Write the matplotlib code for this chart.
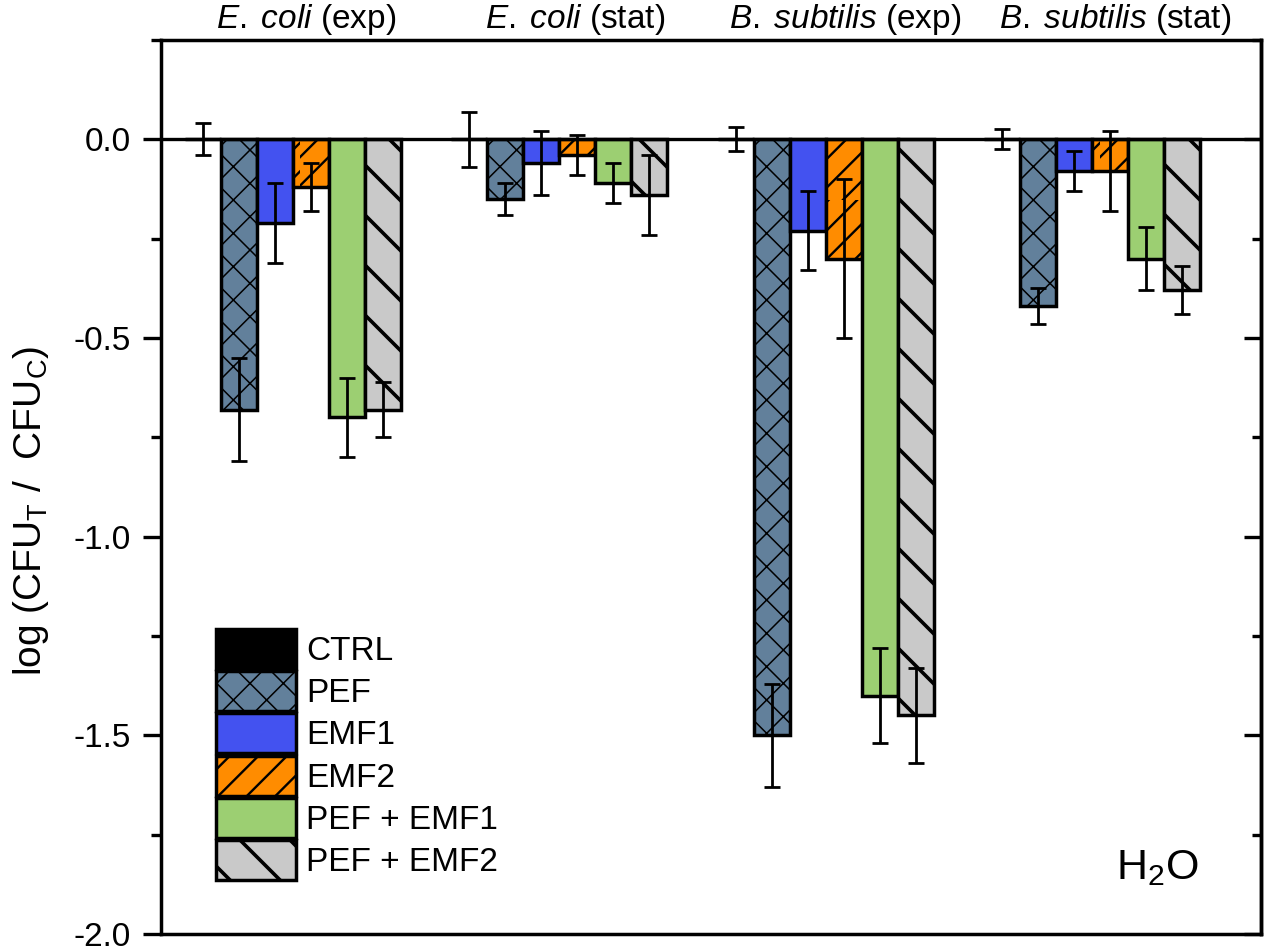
import numpy as np
import matplotlib
matplotlib.use('Agg')
import matplotlib.pyplot as plt
import matplotlib.transforms as mtransforms
from matplotlib.backend_bases import GraphicsContextBase

plt.rcParams['font.family'] = 'Liberation Sans'
plt.rcParams['mathtext.fontset'] = 'custom'
plt.rcParams['mathtext.rm'] = 'Liberation Sans'
plt.rcParams['mathtext.it'] = 'Liberation Sans:italic'

# ── Dados ─────────────────────────────────────────────────────────────────────
groups = [r'$\mathit{E.\;coli}$ (exp)', r'$\mathit{E.\;coli}$ (stat)',
          r'$\mathit{B.\;subtilis}$ (exp)', r'$\mathit{B.\;subtilis}$ (stat)']

treatments = ['CTRL', 'PEF', 'EMF1', 'EMF2', 'PEF + EMF1', 'PEF + EMF2']

ctrl       = [0.0, 0.0, 0.0, 0.0]
ctrl_err   = [0.04, 0.07, 0.03, 0.025]
pef        = [-0.68, -0.15, -1.50, -0.42]
pef_err    = [0.13, 0.04, 0.13, 0.045]
emf1       = [-0.21, -0.06, -0.23, -0.08]
emf1_err   = [0.10, 0.08, 0.10, 0.05]
emf2       = [-0.12, -0.04, -0.30, -0.08]
emf2_err   = [0.06, 0.05, 0.20, 0.10]
pef_emf1     = [-0.70, -0.11, -1.40, -0.30]
pef_emf1_err = [0.10, 0.05, 0.12, 0.08]
pef_emf2     = [-0.68, -0.14, -1.45, -0.38]
pef_emf2_err = [0.07, 0.10, 0.12, 0.06]

values = [ctrl, pef, emf1, emf2, pef_emf1, pef_emf2]
errors = [ctrl_err, pef_err, emf1_err, emf2_err, pef_emf1_err, pef_emf2_err]

# estilo de cada tratamento: (cor, hachura, espessura da hachura, densidade)
styles = [
    ('#000000', None, 1.0, 6),
    ('#62809b', 'x', 1.1, 6),
    ('#4352f0', None, 1.0, 6),
    ('#ff8c00', '/', 1.7, 7),
    ('#9ccf72', None, 1.0, 6),
    ('#c9c9c9', '\\', 2.6, 4),
]

GROUP_STEP = 7.4   # distância entre grupos (em larguras de barra)

# ── Hachura com espessura/densidade própria por artista ───────────────────────
_orig_hatch_path = GraphicsContextBase.get_hatch_path

def custom_hatch(artist, lw, density):
    if hasattr(artist, 'set_hatch_linewidth'):
        artist.set_hatch_linewidth(lw)
    orig_draw = artist.draw

    def draw(renderer):
        def hatch_path(self, density_=6.0):
            return _orig_hatch_path(self, density)
        GraphicsContextBase.get_hatch_path = hatch_path
        try:
            with plt.rc_context({'hatch.linewidth': lw}):
                orig_draw(renderer)
        finally:
            GraphicsContextBase.get_hatch_path = _orig_hatch_path
    artist.draw = draw

# ── Figura ────────────────────────────────────────────────────────────────────
fig = plt.figure(figsize=(12.67, 9.46), dpi=100)
ax = fig.add_axes([161/1267, 1 - 934/946, 1100/1267, 894/946])

base = np.arange(len(groups)) * GROUP_STEP
err_kw = dict(ecolor='black', elinewidth=2.0, capsize=5.8, capthick=2.0, zorder=6)

for j, (name, vals, errs) in enumerate(zip(treatments, values, errors)):
    color, hatch, hlw, dens = styles[j]
    with plt.rc_context({'hatch.linewidth': hlw}):
        bars = ax.bar(base + j, vals, width=1.0, color=color, edgecolor='black',
                      linewidth=2.5, hatch=hatch, label=name, zorder=3,
                      yerr=errs, error_kw=err_kw)
    for b in bars:
        custom_hatch(b, hlw, dens)

ax.axhline(0, color='black', lw=2.4, zorder=4)

ax.set_xlim(-1.17, 29.4)
ax.set_ylim(-2.0, 0.25)

ax.set_xticks([])
ax.set_yticks(np.arange(-2.0, 0.01, 0.5))
ax.set_yticks(np.arange(-2.0, 0.26, 0.25), minor=True)
ax.set_yticklabels([f'{v:.1f}' for v in np.arange(-2.0, 0.01, 0.5)])
ax.tick_params(axis='y', which='major', direction='out', length=13, width=2.4,
               labelsize=24, pad=9)
ax.tick_params(axis='y', which='minor', direction='out', length=7, width=2.4)

for s in ax.spines.values():
    s.set_linewidth(2.5)

# eixo direito: só marcas para dentro
ax_r = ax.secondary_yaxis('right')
ax_r.set_yticks(np.arange(-2.0, 0.01, 0.5))
ax_r.set_yticks(np.arange(-2.0, 0.26, 0.25), minor=True)
ax_r.tick_params(axis='y', which='major', direction='in', length=12, width=2.4,
                 labelright=False)
ax_r.tick_params(axis='y', which='minor', direction='in', length=6.5, width=2.4,
                 labelright=False)
ax_r.spines['right'].set_linewidth(2.5)

ax.set_ylabel(r'log (CFU$_\mathregular{T}$ /  CFU$_\mathregular{C}$)', fontsize=28)
ax.yaxis.set_label_coords(-0.1, 0.473)

# rótulos dos grupos acima do gráfico
trans = mtransforms.blended_transform_factory(ax.transData, ax.transAxes)
for g, label in enumerate(groups):
    ax.text(base[g] + 2.85 + 0.1 * g, 1.013, label, transform=trans,
            ha='center', va='baseline', fontsize=24)

ax.text(0.943, 0.0615, r'H$_\mathregular{2}$O', transform=ax.transAxes,
        ha='right', va='baseline', fontsize=31)

leg = ax.legend(loc='lower left', bbox_to_anchor=(0.05, 0.06), frameon=False,
                fontsize=24, handlelength=2.4, handleheight=1.47,
                labelspacing=0.07, handletextpad=0.3, borderpad=0,
                borderaxespad=0)
for p, st in zip(leg.get_patches(), styles):
    custom_hatch(p, st[2], st[3])

plt.savefig('out.png', dpi=100)
plt.close()
